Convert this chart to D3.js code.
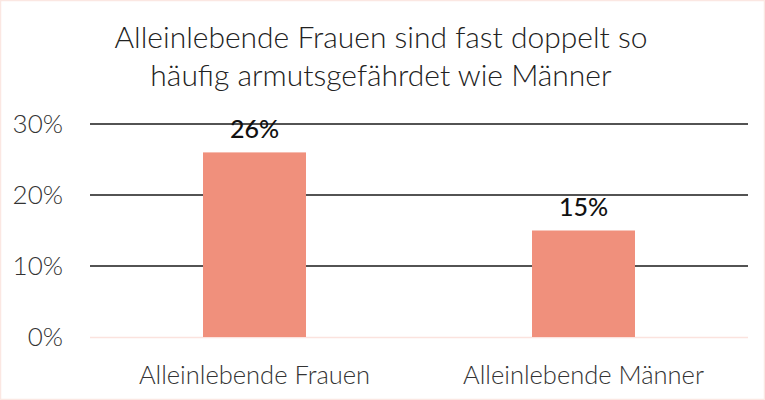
<!DOCTYPE html>
<html>
<head>
<meta charset="utf-8">
<script src="https://cdn.jsdelivr.net/npm/d3@7"></script>
<style>
  body { margin: 0; background: #fff; }
  svg { display: block; font-family: Lato, "Open Sans", sans-serif; }
</style>
</head>
<body>
<svg id="chart"></svg>
<script>
let categories = ["Alleinlebende Frauen", "Alleinlebende Männer"];
let values = [26, 15];
let yTicks = [0, 10, 20, 30];
let titleLines = ["Alleinlebende Frauen sind fast doppelt so", "häufig armutsgefährdet wie Männer"];

let svg = d3.select("svg#chart").attr("width", 765).attr("height", 400);
let padding = { "top": 124, "bottom": 63, "left": 90, "right": 17 };
let w = 765 - padding.left - padding.right;
let h = 400 - padding.top - padding.bottom;

// faint border
svg.append("rect").attr("x", 0.5).attr("y", 0.5).attr("width", 764).attr("height", 399)
  .attr("fill", "none").attr("stroke", "#fbe7e2").attr("stroke-width", 1.5);

let xScale = d3.scaleBand().domain(categories).range([0, w]).paddingInner(0.687).paddingOuter(0.3435);
let yScale = d3.scaleLinear().domain([0, 30]).range([h, 0]);

let g = svg.append("g").attr("transform", "translate(" + padding.left + "," + padding.top + ")");

// gridlines
g.selectAll("line.grid").data(yTicks.filter(d => d > 0)).enter().append("line")
  .attr("class", "grid")
  .attr("x1", 0).attr("x2", w)
  .attr("y1", d => yScale(d)).attr("y2", d => yScale(d))
  .attr("stroke", "#1a1a1a").attr("stroke-width", 1.5);

// baseline
g.append("line").attr("x1", 0).attr("x2", w).attr("y1", yScale(0) + 0.5).attr("y2", yScale(0) + 0.5)
  .attr("stroke", "#fbe3de").attr("stroke-width", 1.5);

// y labels
g.selectAll("text.ylab").data(yTicks).enter().append("text")
  .attr("class", "ylab")
  .attr("x", -27).attr("y", d => yScale(d)).attr("dy", "0.35em")
  .attr("text-anchor", "end").attr("fill", "#333").style("font-size", "26px").style("font-weight", 300)
  .text(d => d + "%");

// bars
g.selectAll("rect.bar").data(values).enter().append("rect")
  .attr("class", "bar")
  .attr("x", (d, i) => xScale(categories[i]))
  .attr("width", xScale.bandwidth())
  .attr("y", d => yScale(d))
  .attr("height", d => yScale(0) - yScale(d))
  .attr("fill", "#f0907c");

// value labels
g.selectAll("text.val").data(values).enter().append("text")
  .attr("class", "val")
  .attr("x", (d, i) => xScale(categories[i]) + xScale.bandwidth() / 2)
  .attr("y", d => yScale(d) - 23).attr("dy", "0.35em")
  .attr("text-anchor", "middle").attr("fill", "#111").style("font-size", "25px").style("font-weight", 500)
  .text(d => d + "%");

// category labels
g.selectAll("text.cat").data(categories).enter().append("text")
  .attr("class", "cat")
  .attr("x", d => xScale(d) + xScale.bandwidth() / 2)
  .attr("y", h + 38).attr("dy", "0.35em")
  .attr("text-anchor", "middle").attr("fill", "#333").style("font-size", "25.5px").style("font-weight", 300)
  .text(d => d);

// title
svg.selectAll("text.title").data(titleLines).enter().append("text")
  .attr("class", "title")
  .attr("x", 381).attr("y", (d, i) => 37 + i * 38).attr("dy", "0.35em")
  .attr("text-anchor", "middle").attr("fill", "#222").style("font-size", "30px").style("font-weight", 300)
  .text(d => d);
</script>
</body>
</html>
